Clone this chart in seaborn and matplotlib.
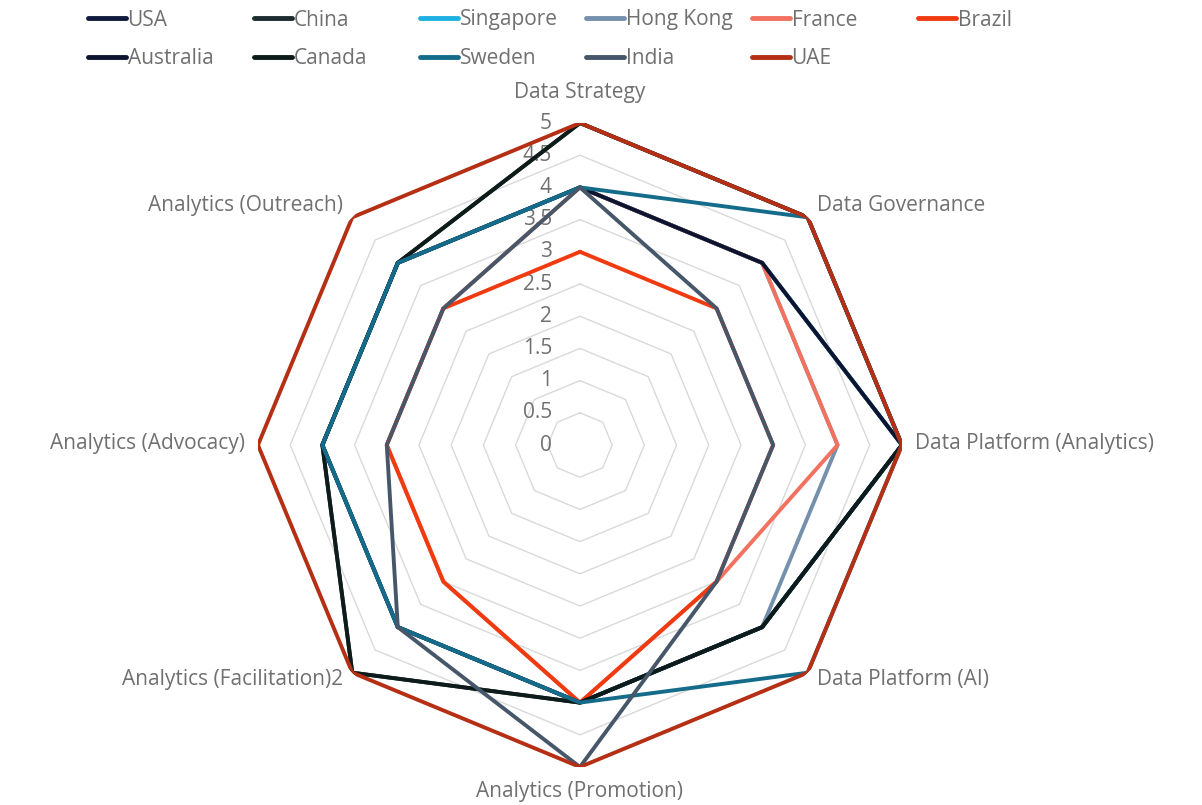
import numpy as np
import pandas as pd
import matplotlib
matplotlib.use("Agg")
import matplotlib.pyplot as plt
import seaborn as sns

# Dimensions, clockwise from the top
dims = ["Data Strategy", "Data Governance", "Data Platform (Analytics)",
        "Data Platform (AI)", "Analytics (Promotion)", "Analytics (Facilitation)2",
        "Analytics (Advocacy)", "Analytics (Outreach)"]

countries = ["USA", "China", "Singapore", "Hong Kong", "France", "Brazil",
             "Australia", "Canada", "Sweden", "India", "UAE"]

# Scores (same order as dims)
usa = [4, 4, 5, 4, 4, 4, 4, 4]
china = [5, 5, 5, 4, 4, 5, 4, 4]
singapore = [4, 4, 5, 4, 4, 4, 4, 4]
hong_kong = [4, 4, 4, 4, 4, 4, 4, 4]
france = [4, 4, 4, 3, 4, 3, 3, 3]
brazil = [3, 3, 3, 3, 4, 3, 3, 3]
australia = [4, 4, 5, 4, 4, 4, 4, 4]
canada = [5, 5, 5, 4, 4, 5, 4, 4]
sweden = [4, 5, 5, 5, 4, 4, 4, 4]
india = [4, 3, 3, 3, 5, 4, 3, 3]
uae = [5, 5, 5, 5, 5, 5, 5, 5]

scores = [usa, china, singapore, hong_kong, france, brazil,
          australia, canada, sweden, india, uae]

colors = ["#0f1a3c", "#1b2d2e", "#1fb0e2", "#7490ab", "#f2715f", "#f03a10",
          "#0c1430", "#0e1b1b", "#146c8a", "#47576a", "#b52f15"]

levels = [0, 0.5, 1, 1.5, 2, 2.5, 3, 3.5, 4, 4.5, 5]

# long table, first point repeated to close each polygon
angles = [2 * np.pi * i / len(dims) for i in range(len(dims))]
rows = []
for name, vals in zip(countries, scores):
    for a, v in zip(angles + [2 * np.pi], vals + vals[:1]):
        rows.append({"country": name, "angle": a, "score": v})
df = pd.DataFrame(rows)

sns.set_style("white")
plt.rcParams["font.family"] = ["Open Sans", "DejaVu Sans"]
text_col = "#707070"
fs = 15

fig = plt.figure(figsize=(12.02, 8.05), dpi=100)
ax = fig.add_axes([0.2146, 0.0472, 0.5358, 0.8], projection="polar")
ax.set_theta_zero_location("N")
ax.set_theta_direction(-1)

# octagonal gridlines
for lvl in levels[1:]:
    ax.plot(angles + [2 * np.pi], [lvl] * (len(dims) + 1),
            color="#d9d9d9", lw=1, zorder=1)

sns.lineplot(data=df, x="angle", y="score", hue="country", hue_order=countries,
             palette=dict(zip(countries, colors)), sort=False, estimator=None,
             lw=2.8, ax=ax, zorder=3)

ax.set_ylim(0, 5)
ax.set_xticks([])
ax.set_yticks([])
ax.grid(False)
ax.spines["polar"].set_visible(False)
ax.set_xlabel("")
ax.set_ylabel("")
ax.patch.set_alpha(0)

# radial value labels along the top axis
for lvl in levels:
    ax.annotate(f"{lvl:g}", xy=(0, lvl), xytext=(-28, 0),
                textcoords="offset pixels", ha="right", va="center",
                fontsize=fs, color=text_col, zorder=2)

# category labels
for a, name in zip(angles, dims):
    s, c = np.sin(a), np.cos(a)
    if abs(s) < 0.1:
        ha = "center"
        off = (0, 31 if c > 0 else -24)
    else:
        ha = "left" if s > 0 else "right"
        off = (9 * np.sign(s) if abs(s) < 0.9 else 13 * np.sign(s),
               12 if c > 0.1 else (-7 if c < -0.1 else 2))
    ax.annotate(name, xy=(a, 5), xytext=off, textcoords="offset pixels",
                ha=ha, va="center", fontsize=fs, color=text_col)

# legend: fixed-width slots, filled row by row
handles, labels = ax.get_legend_handles_labels()
ax.get_legend().remove()
for i, (h, l) in enumerate(zip(handles, labels)):
    col, row = i % 6, i // 6
    x = (88 + 166 * col) / 1202
    y = 1 - (20 + 39 * row) / 805
    leg = fig.legend([h], [l], loc="center left", bbox_to_anchor=(x, y),
                     frameon=False, fontsize=fs, handlelength=1.8,
                     handletextpad=0.1, borderpad=0, borderaxespad=0,
                     labelcolor=text_col)
    leg.get_lines()[0].set_linewidth(3.5)

fig.savefig("out.png", dpi=100, facecolor="white")
